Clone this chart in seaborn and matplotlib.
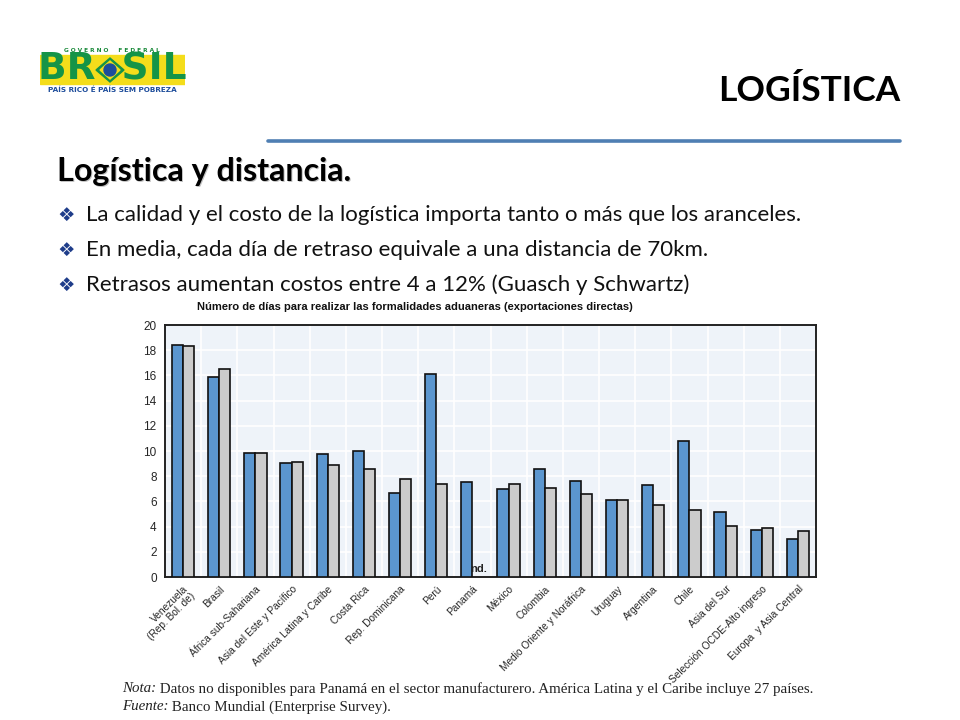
import numpy as np
import pandas as pd
import matplotlib
matplotlib.use("Agg")
import matplotlib.pyplot as plt
import seaborn as sns
from matplotlib import font_manager
from matplotlib.patches import Rectangle, Polygon, Circle

# Data (days for customs formalities, direct exports)
categories = [
    "Venezuela\n(Rep. Bol. de)", "Brasil", "África sub-Sahariana",
    "Asia del Este y Pacífico", "América Latina y Caribe", "Costa Rica",
    "Rep. Dominicana", "Perú", "Panamá", "México", "Colombia",
    "Medio Oriente y Noráfrica", "Uruguay", "Argentina", "Chile",
    "Asia del Sur", "Selección OCDE-Alto ingreso", "Europa  y Asia Central",
]
serie_azul = [18.4, 15.9, 9.85, 9.05, 9.75, 10.0, 6.65, 16.1, 7.55, 6.95,
              8.6, 7.65, 6.15, 7.3, 10.8, 5.15, 3.75, 3.0]
serie_gris = [18.3, 16.5, 9.85, 9.15, 8.9, 8.55, 7.75, 7.35, np.nan, 7.35,
              7.05, 6.55, 6.15, 5.75, 5.35, 4.05, 3.85, 3.65]
series_names = ["serie 1", "serie 2"]
y_ticks = list(range(0, 21, 2))

bullets = [
    "La calidad y el costo de la logística importa tanto o más que los aranceles.",
    "En media, cada día de retraso equivale a una distancia de 70km.",
    "Retrasos aumentan costos entre 4 a 12% (Guasch y Schwartz)",
]

df = pd.DataFrame({
    "categoria": categories * 2,
    "serie": [series_names[0]] * len(categories) + [series_names[1]] * len(categories),
    "dias": serie_azul + serie_gris,
})

sns.set_theme(style="white")
plt.rcParams["font.family"] = ["Lato", "DejaVu Sans"]
installed = {f.name for f in font_manager.fontManager.ttflist}
if "Liberation Sans Narrow" in installed:
    narrow = ["Liberation Sans Narrow", "DejaVu Sans"]
    tsize, xsize, ysize = 9.5, 8.5, 9.5
else:
    narrow = ["Liberation Sans", "DejaVu Sans"]
    tsize, xsize, ysize = 8, 7.3, 8.5
serif = ["Liberation Serif", "DejaVu Serif"]

fig = plt.figure(figsize=(9.6, 7.2), dpi=100)
W, H = 960, 720


def px(x, y):
    return x / W, 1 - y / H


# ---- slide header ----
ax_logo = fig.add_axes([40 / W, 1 - 94 / H, 145 / W, 48 / H])
ax_logo.set_xlim(0, 145)
ax_logo.set_ylim(48, 0)
ax_logo.axis("off")
ax_logo.text(72, 4, "G O V E R N O     F E D E R A L", ha="center", va="center",
             fontsize=4.2, color="#1a8a3a", fontweight="bold", family="DejaVu Sans")
ax_logo.add_patch(Rectangle((0, 9), 145, 29, color="#f4dd1b", zorder=0))
ax_logo.text(72, 24, "BR  SIL", ha="center", va="center", fontsize=27,
             color="#159447", fontweight="bold", family="DejaVu Sans")
ax_logo.add_patch(Polygon([[56, 24], [70, 12], [84, 24], [70, 36]], color="#159447"))
ax_logo.add_patch(Polygon([[60, 24], [70, 15], [80, 24], [70, 33]], color="#f4dd1b"))
ax_logo.add_patch(Circle((70, 24), 6, color="#1e4d9b"))
ax_logo.text(72, 44, "PAÍS RICO É PAÍS SEM POBREZA", ha="center", va="center",
             fontsize=5.2, color="#1e4d9b", fontweight="bold", family="DejaVu Sans")

fig.text(*px(900, 91), "LOGÍSTICA", ha="right", va="center", fontsize=25.5,
         fontweight="bold", color="black")
fig.add_artist(plt.Line2D([268 / W, 900 / W], [1 - 141 / H] * 2, color="#4f7fb3", lw=2.6))

fig.text(*px(58.5, 172.5), "Logística y distancia.", ha="left", va="center", fontsize=23.2,
         fontweight="bold", color="#9a9a9a", alpha=0.6)
fig.text(*px(57, 171), "Logística y distancia.", ha="left", va="center", fontsize=23.2,
         fontweight="bold", color="black")

for i, b in enumerate(bullets):
    y = 215 + i * 35
    fig.text(*px(57, y), "❖", ha="left", va="center", fontsize=14,
             color="#1f3d8a", family="DejaVu Sans")
    fig.text(*px(86, y), b, ha="left", va="center", fontsize=16, color="#111111")

# ---- chart ----
ax = fig.add_axes([165 / W, 1 - 577 / H, 651 / W, 252 / H])
ax.set_facecolor("#eef3f9")
sns.barplot(data=df, x="categoria", y="dias", hue="serie", hue_order=series_names,
            palette=["#5b96cf", "#cccccc"], saturation=1, width=0.62,
            edgecolor="#111111", linewidth=1.2, legend=False, ax=ax, zorder=3)
n = len(categories)
ax.set_xlim(-0.5, n - 0.5)
ax.set_ylim(0, 20)
ax.set_yticks(y_ticks)
ax.set_yticklabels([str(t) for t in y_ticks], family=narrow, fontsize=ysize)
ax.set_xticks(range(n))
ax.set_xticklabels(categories, rotation=45, ha="right", rotation_mode="anchor",
                   family=narrow, fontsize=xsize, linespacing=0.95)
ax.set_xticks(np.arange(0.5, n - 0.5, 1), minor=True)
ax.tick_params(axis="x", which="major", length=0, pad=5)
ax.tick_params(axis="x", which="minor", length=3, direction="in", color="#333333")
ax.tick_params(axis="y", length=0, pad=6)
ax.set_xlabel("")
ax.set_ylabel("")
ax.grid(False)
for yv in y_ticks:
    ax.axhline(yv, color="white", lw=1.2, zorder=1)
for xv in np.arange(0.5, n - 0.5, 1):
    ax.axvline(xv, color="white", lw=1.2, zorder=1)
for s in ax.spines.values():
    s.set_color("#222222")
    s.set_linewidth(1.4)
ax.text(8.16, 0.25, "nd.", ha="center", va="bottom", fontsize=tsize, fontweight="bold",
        family=narrow, color="#222222", zorder=4)

fig.text(*px(197, 307), "Número de días para realizar las formalidades aduaneras (exportaciones directas)",
         ha="left", va="center", fontsize=tsize, fontweight="bold", family=narrow, color="#111111")

# footnotes: italic label followed by the plain text
renderer = fig.canvas.get_renderer()
notes = [("Nota:", " Datos no disponibles para Panamá en el sector manufacturero. "
          "América Latina y el Caribe incluye 27 países.", 689),
         ("Fuente:", " Banco Mundial (Enterprise Survey).", 707)]
for label, body, y in notes:
    t = fig.text(*px(122, y), label, ha="left", va="center", fontsize=10.8, style="italic",
                 family=serif, color="#222222")
    x_end = t.get_window_extent(renderer).x1
    fig.text(x_end / W, 1 - y / H, body, ha="left", va="center", fontsize=10.8,
             family=serif, color="#222222")

fig.savefig("out.png", dpi=100)
